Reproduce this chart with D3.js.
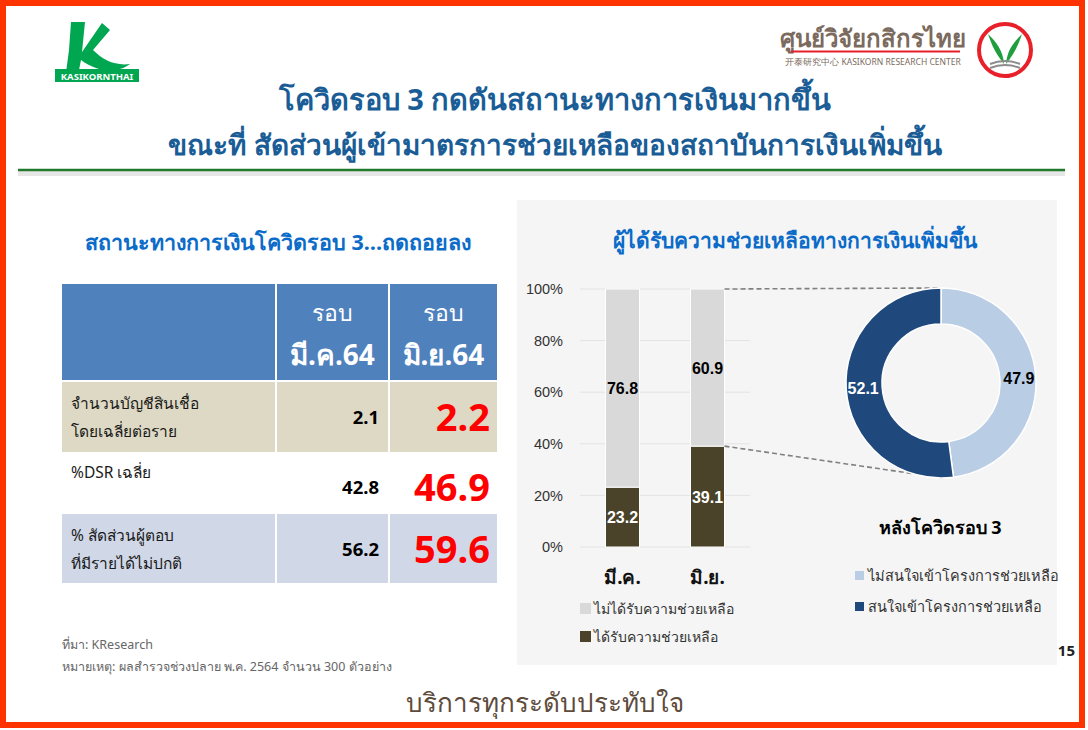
<!DOCTYPE html>
<html>
<head>
<meta charset="utf-8">
<script src="https://cdn.jsdelivr.net/npm/d3@7"></script>
<style>
  body { margin: 0; background: #fff; }
  svg { display: block; font-family: "Noto Sans", "Liberation Sans", "DejaVu Sans", sans-serif; }
</style>
</head>
<body>
<script>
// Table data
var rowLabels = [["จำนวนบัญชีสินเชื่อ", "โดยเฉลี่ยต่อราย"], ["%DSR เฉลี่ย"], ["% สัดส่วนผู้ตอบ", "ที่มีรายได้ไม่ปกติ"]];
var colHeads = ["มี.ค.64", "มิ.ย.64"];
var marValues = [2.1, 42.8, 56.2];
var junValues = [2.2, 46.9, 59.6];

// Stacked bar data
var months = ["มี.ค.", "มิ.ย."];
var helped = [23.2, 39.1];
var notHelped = [76.8, 60.9];
var barSeries = ["ไม่ได้รับความช่วยเหลือ", "ได้รับความช่วยเหลือ"];
var yTicks = [0, 20, 40, 60, 80, 100];

// Donut data
var donutLabels = ["ไม่สนใจเข้าโครงการช่วยเหลือ", "สนใจเข้าโครงการช่วยเหลือ"];
var donutValues = [47.9, 52.1];

var W = 1088, H = 730;
var svg = d3.select("body").append("svg")
    .attr("width", W)
    .attr("height", H);

// Frame
svg.append("rect").attr("x", 3).attr("y", 3).attr("width", W - 9).attr("height", H - 8)
    .attr("fill", "#fff").attr("stroke", "#FF3300").attr("stroke-width", 6);

// ---------- logos ----------
var kl = svg.append("g").attr("transform", "translate(55,20)");
kl.append("path")
    .attr("d", "M16,2 L30,2 L27,32 L47,3 L55,10 L38,30 C48,40 60,46 75,44 C62,54 42,52 26,40 L22,60 L10,60 L14,30 Z")
    .attr("fill", "#00A650");
kl.append("rect").attr("x", 0).attr("y", 49).attr("width", 84).attr("height", 13).attr("fill", "#00A650");
kl.append("text").attr("x", 42).attr("y", 59.5).attr("text-anchor", "middle")
    .attr("fill", "#fff").attr("font-size", 9.5).attr("font-weight", "bold").text("KASIKORNTHAI");

var rl = svg.append("g");
rl.append("text").attr("x", 873).attr("y", 47).attr("text-anchor", "middle")
    .attr("fill", "#7B6A5E").attr("font-size", 24).attr("font-weight", "bold").text("ศูนย์วิจัยกสิกรไทย");
rl.append("line").attr("x1", 791).attr("x2", 960).attr("y1", 51.5).attr("y2", 51.5)
    .attr("stroke", "#E8202A").attr("stroke-width", 2);
rl.append("text").attr("x", 873).attr("y", 65).attr("text-anchor", "middle")
    .attr("fill", "#7B6A5E").attr("font-size", 8.5).text("开泰研究中心 KASIKORN RESEARCH CENTER");
rl.append("circle").attr("cx", 1005).attr("cy", 50).attr("r", 26)
    .attr("fill", "#fff").attr("stroke", "#E8202A").attr("stroke-width", 4);
rl.append("path").attr("d", "M1004,64 C1003,50 996,42 988,34 C992,46 996,54 1004,64 Z").attr("fill", "#1E9E3E");
rl.append("path").attr("d", "M1006,64 C1007,50 1014,42 1022,34 C1018,46 1014,54 1006,64 Z").attr("fill", "#1E9E3E");
rl.append("path").attr("d", "M990,64 Q1005,58 1020,64 M990,68 Q1005,62 1020,68").attr("fill", "none")
    .attr("stroke", "#8C8C8C").attr("stroke-width", 2);

// ---------- title ----------
svg.append("text").attr("x", 555).attr("y", 110).attr("text-anchor", "middle")
    .attr("fill", "#1A5D96").attr("font-size", 29).attr("font-weight", "bold")
    .text("โควิดรอบ 3 กดดันสถานะทางการเงินมากขึ้น");
svg.append("text").attr("x", 555).attr("y", 155).attr("text-anchor", "middle")
    .attr("fill", "#1A5D96").attr("font-size", 28).attr("font-weight", "bold")
    .text("ขณะที่ สัดส่วนผู้เข้ามาตรการช่วยเหลือของสถาบันการเงินเพิ่มขึ้น");
svg.append("rect").attr("x", 18).attr("y", 171).attr("width", 1047).attr("height", 5).attr("fill", "#E6E6E6");
svg.append("line").attr("x1", 18).attr("x2", 1065).attr("y1", 170).attr("y2", 170)
    .attr("stroke", "#217A2B").attr("stroke-width", 2.5);

// ---------- left table ----------
svg.append("text").attr("x", 278).attr("y", 250).attr("text-anchor", "middle")
    .attr("fill", "#0B6BC8").attr("font-size", 21.5).attr("font-weight", "bold")
    .text("สถานะทางการเงินโควิดรอบ 3…ถดถอยลง");

var colX = [62, 277, 390], colW = [213, 111, 107];
var rowY = [382, 454, 514], rowH = [70, 58, 69];
var rowFill = ["#DDD9C4", "#FFFFFF", "#D0D8E8"];

colX.forEach(function(x, i) {
  svg.append("rect").attr("x", x).attr("y", 284).attr("width", colW[i]).attr("height", 96).attr("fill", "#4F81BD");
});
colHeads.forEach(function(h, i) {
  var cx = colX[i + 1] + colW[i + 1] / 2;
  svg.append("text").attr("x", cx).attr("y", 321).attr("text-anchor", "middle")
      .attr("fill", "#fff").attr("font-size", 23).text("รอบ");
  svg.append("text").attr("x", cx).attr("y", 365).attr("text-anchor", "middle")
      .attr("fill", "#fff").attr("font-size", 28).attr("font-weight", "bold").text(h);
});

rowLabels.forEach(function(lines, r) {
  colX.forEach(function(x, i) {
    svg.append("rect").attr("x", x).attr("y", rowY[r]).attr("width", colW[i]).attr("height", rowH[r]).attr("fill", rowFill[r]);
  });
  var ly = r == 1 ? [478] : [rowY[r] + 27, rowY[r] + 55];
  lines.forEach(function(t, k) {
    svg.append("text").attr("x", 71).attr("y", ly[k]).attr("fill", "#1a1a1a")
        .attr("font-size", 15.5).text(t);
  });
  var vy = r == 1 ? rowY[r] + 40 : rowY[r] + rowH[r] / 2 + 7;
  svg.append("text").attr("x", 379).attr("y", vy).attr("text-anchor", "end")
      .attr("fill", "#000").attr("font-size", 18.5).attr("font-weight", "bold").text(marValues[r].toFixed(1));
  svg.append("text").attr("x", 490).attr("y", vy + 7).attr("text-anchor", "end")
      .attr("fill", "#FF0000").attr("font-size", 38).attr("font-weight", "bold").text(junValues[r].toFixed(1));
});

svg.append("text").attr("x", 62).attr("y", 649).attr("fill", "#666").attr("font-size", 12.5).text("ที่มา: KResearch");
svg.append("text").attr("x", 62).attr("y", 671).attr("fill", "#666").attr("font-size", 12.5)
    .text("หมายเหตุ: ผลสำรวจช่วงปลาย พ.ค. 2564 จำนวน 300 ตัวอย่าง");

// ---------- right panel ----------
svg.append("rect").attr("x", 517).attr("y", 200).attr("width", 540).attr("height", 465).attr("fill", "#F5F5F5");
svg.append("text").attr("x", 795).attr("y", 248).attr("text-anchor", "middle")
    .attr("fill", "#0B6BC8").attr("font-size", 21).attr("font-weight", "bold")
    .text("ผู้ได้รับความช่วยเหลือทางการเงินเพิ่มขึ้น");

var x = d3.scaleBand().domain(months).range([580, 750]).paddingInner(0.6).paddingOuter(0.3);
var y = d3.scaleLinear().domain([0, 100]).range([547, 289]);

svg.append("g").selectAll("line").data(yTicks).join("line")
    .attr("x1", 580).attr("x2", 750)
    .attr("y1", function(d) { return y(d); }).attr("y2", function(d) { return y(d); })
    .attr("stroke", "#E3E3E3").attr("stroke-width", 1);

var yAxis = svg.append("g").attr("transform", "translate(566,0)")
    .call(d3.axisLeft(y).tickValues(yTicks).tickSize(0).tickFormat(function(d) { return d + "%"; }));
yAxis.select(".domain").remove();
yAxis.selectAll("text").attr("font-size", 14.5).attr("fill", "#333").attr("font-family", "Liberation Sans, Arial, sans-serif");

var stackData = months.map(function(m, i) { return {month: m, helped: helped[i], notHelped: notHelped[i]}; });
var stack = d3.stack().keys(["helped", "notHelped"])(stackData);
var barColors = {helped: "#4A4329", notHelped: "#D9D9D9"};

stack.forEach(function(s) {
  svg.append("g").selectAll("rect").data(s).join("rect")
      .attr("x", function(d) { return x(d.data.month); })
      .attr("width", x.bandwidth())
      .attr("y", function(d) { return y(d[1]); })
      .attr("height", function(d) { return y(d[0]) - y(d[1]); })
      .attr("fill", barColors[s.key])
      .attr("stroke", "#fff").attr("stroke-width", 1);
  svg.append("g").selectAll("text").data(s).join("text")
      .attr("x", function(d) { return x(d.data.month) + x.bandwidth() / 2; })
      .attr("y", function(d) { return y((d[0] + d[1]) / 2) + 6; })
      .attr("text-anchor", "middle")
      .attr("font-size", 16).attr("font-weight", "bold")
      .attr("font-family", "Liberation Sans, Arial, sans-serif")
      .attr("fill", s.key == "helped" ? "#fff" : "#000")
      .text(function(d) { return d.data[s.key].toFixed(1); });
});

svg.append("g").selectAll("text").data(months).join("text")
    .attr("x", function(d) { return x(d) + x.bandwidth() / 2; })
    .attr("y", 584).attr("text-anchor", "middle")
    .attr("font-size", 19).attr("font-weight", "bold").attr("fill", "#111")
    .text(function(d) { return d; });

barSeries.forEach(function(t, i) {
  var ly = 609 + i * 28;
  svg.append("rect").attr("x", 580).attr("y", ly - 6).attr("width", 11).attr("height", 11)
      .attr("fill", i == 0 ? barColors.notHelped : barColors.helped);
  svg.append("text").attr("x", 594).attr("y", ly + 5).attr("font-size", 14).attr("fill", "#333").text(t);
});

// dashed connectors
var last = months.length - 1;
var barRight = x(months[last]) + x.bandwidth();
var dcx = 941, dcy = 383, rOut = 95, rIn = 59;
var connectors = [[barRight, y(100), dcx, dcy - rOut], [barRight, y(helped[last]), dcx + 2, dcy + rOut]];
svg.append("g").selectAll("line").data(connectors).join("line")
    .attr("x1", function(d) { return d[0]; }).attr("y1", function(d) { return d[1]; })
    .attr("x2", function(d) { return d[2]; }).attr("y2", function(d) { return d[3]; })
    .attr("stroke", "#808080").attr("stroke-width", 1.6).attr("stroke-dasharray", "5,3");

// donut
var pie = d3.pie().sort(null)(donutValues);
var arc = d3.arc().innerRadius(rIn).outerRadius(rOut);
var donutColors = ["#B9CDE5", "#1F497D"];
var dg = svg.append("g").attr("transform", "translate(" + dcx + "," + dcy + ")");
dg.selectAll("path").data(pie).join("path")
    .attr("d", arc)
    .attr("fill", function(d, i) { return donutColors[i]; })
    .attr("stroke", "#fff").attr("stroke-width", 1.5);
var labelArc = d3.arc().innerRadius(rIn + 2).outerRadius(rOut);
dg.selectAll("text").data(pie).join("text")
    .attr("transform", function(d) { return "translate(" + labelArc.centroid(d) + ")"; })
    .attr("dy", 6).attr("text-anchor", "middle")
    .attr("font-size", 16).attr("font-weight", "bold")
    .attr("font-family", "Liberation Sans, Arial, sans-serif")
    .attr("fill", function(d, i) { return i == 0 ? "#000" : "#fff"; })
    .text(function(d) { return d.data.toFixed(1); });

svg.append("text").attr("x", 940).attr("y", 534).attr("text-anchor", "middle")
    .attr("font-size", 18).attr("font-weight", "bold").attr("fill", "#000").text("หลังโควิดรอบ 3");

donutLabels.forEach(function(t, i) {
  var ly = 576 + i * 31;
  svg.append("rect").attr("x", 855).attr("y", ly - 5).attr("width", 9).attr("height", 9).attr("fill", donutColors[i]);
  svg.append("text").attr("x", 868).attr("y", ly + 5).attr("font-size", 14.5).attr("fill", "#333").text(t);
});

svg.append("text").attr("x", 1075).attr("y", 656).attr("text-anchor", "end")
    .attr("font-size", 15).attr("font-weight", "bold").attr("fill", "#222").text("15");

// footer slogan
svg.append("text").attr("x", 545).attr("y", 712).attr("text-anchor", "middle")
    .attr("fill", "#5E4B3C").attr("font-size", 26).text("บริการทุกระดับประทับใจ");
</script>
</body>
</html>
